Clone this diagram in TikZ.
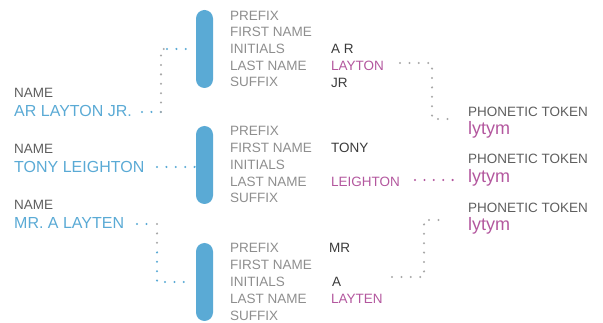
\documentclass[tikz,border=0pt]{standalone}
\usepackage{fontspec}
\setmainfont{Liberation Sans}
\definecolor{lblgray}{HTML}{8E8E8E}
\definecolor{namegray}{HTML}{5E5E5E}
\definecolor{valdark}{HTML}{3A3A3A}
\definecolor{nblue}{HTML}{5AAAD5}
\definecolor{npurple}{HTML}{B3579E}
\definecolor{dgray}{HTML}{A8A8A8}
\tikzset{
  lbl/.style={font=\fontsize{13.5}{16}\selectfont, text=lblgray, anchor=base west, inner sep=0pt},
  val/.style={lbl, text=valdark},
  valp/.style={lbl, text=npurple},
  nmlbl/.style={lbl, text=namegray},
  nmval/.style={font=\fontsize{16}{19}\selectfont, text=nblue, anchor=base west, inner sep=0pt},
  tokval/.style={font=\fontsize{18}{21}\selectfont, text=npurple, anchor=base west, inner sep=0pt},
  barbox/.style={fill=nblue, draw=none, minimum width=17pt, minimum height=78pt, rounded corners=8.5pt, inner sep=0pt},
  dotsbase/.style={line width=2.3pt, line cap=round, dash pattern=on 0pt off 9.4pt},
  dotb/.style={dotsbase, draw=nblue},
  dotg/.style={dotsbase, draw=dgray},
  dotp/.style={dotsbase, draw=npurple},
}
\begin{document}
\begin{tikzpicture}[x=1pt,y=-1pt]
\useasboundingbox (0,0) rectangle (603,323);
% bars
\node[barbox] (b1) at (204.5,49) {};
\node[barbox] (b2) at (204.5,165) {};
\node[barbox] (b3) at (204.5,282) {};
% group 1 labels
\node[lbl] (g1a) at (230,20.5) {PREFIX};
\node[lbl] (g1b) at (230,37) {FIRST NAME};
\node[lbl] (g1c) at (230,54) {INITIALS};
\node[lbl] (g1d) at (230,70.5) {LAST NAME};
\node[lbl] (g1e) at (230,87) {SUFFIX};
\node[val] (v1c) at (331,54) {A R};
\node[valp] (v1d) at (331,71) {LAYTON};
\node[val] (v1e) at (331,88) {JR};
% group 2 labels
\node[lbl] (g2a) at (230,136) {PREFIX};
\node[lbl] (g2b) at (230,153) {FIRST NAME};
\node[lbl] (g2c) at (230,169.5) {INITIALS};
\node[lbl] (g2d) at (230,186.5) {LAST NAME};
\node[lbl] (g2e) at (230,203) {SUFFIX};
\node[val] (v2b) at (331,153) {TONY};
\node[valp] (v2d) at (331,187) {LEIGHTON};
% group 3 labels
\node[lbl] (g3a) at (230,253) {PREFIX};
\node[lbl] (g3b) at (230,270) {FIRST NAME};
\node[lbl] (g3c) at (230,287) {INITIALS};
\node[lbl] (g3d) at (230,303.5) {LAST NAME};
\node[lbl] (g3e) at (230,320) {SUFFIX};
\node[val] (v3a) at (329,253) {MR};
\node[val] (v3c) at (332,287) {A};
\node[valp] (v3d) at (331,304) {LAYTEN};
% names
\node[nmlbl] (n1l) at (14,98) {NAME};
\node[nmval] (n1) at (14,117) {AR LAYTON JR.};
\node[nmlbl] (n2l) at (14,154) {NAME};
\node[nmval] (n2) at (14,173) {TONY LEIGHTON};
\node[nmlbl] (n3l) at (14,210) {NAME};
\node[nmval] (n3) at (14,229) {MR. A LAYTEN};
% tokens
\node[lbl, text=namegray] (t1l) at (468,117) {PHONETIC TOKEN};
\node[tokval] (t1) at (468,135) {lytym};
\node[lbl, text=namegray] (t2l) at (468,164) {PHONETIC TOKEN};
\node[tokval] (t2) at (468,183) {lytym};
\node[lbl, text=namegray] (t3l) at (468,213) {PHONETIC TOKEN};
\node[tokval] (t3) at (468,231) {lytym};
% connector coordinates
\coordinate (c1s) at (142,112);
\coordinate (c1a) at (161,112);
\coordinate (c1b) at (161,49);
\coordinate (c1c) at (167,49);
\coordinate (c2s) at (157,167);
\coordinate (c3s) at (137,224);
\coordinate (c3a) at (157,224);
\coordinate (c3m) at (157,243);
\coordinate (c3b) at (157,282);
\coordinate (c4s) at (400,63);
\coordinate (c4a) at (432,63);
\coordinate (c4b) at (432,119);
\coordinate (c5s) at (415,180);
\coordinate (c6s) at (392,277);
\coordinate (c6a) at (424,277);
\coordinate (c6b) at (424,220);
% connectors
\draw[dotb] (c1s) -- (c1a);
\draw[dotg] (c1a) -- (c1b) -- (c1c);
\draw[dotb] (c1c) -- ([xshift=-2pt]b1.west |- c1c);
\draw[dotb] (c2s) -- ([xshift=-1pt]b2.west |- c2s);
\draw[dotb] (c3s) -- ([xshift=-7pt]c3a);
\draw[dotg] (c3a) -- (c3m);
\draw[dotb] ([yshift=-9.4pt]c3m) -- (c3b) -- ([xshift=-4pt]b3.west |- c3b);
\draw[dotg] (c4s) -- (c4a) -- (c4b) -- ([xshift=-13pt]t1l.west |- c4b);
\draw[dotp] (c5s) -- ([xshift=-14pt]t2.west |- c5s);
\draw[dotg] (c6s) -- (c6a) -- (c6b) -- ([xshift=-25pt]t3l.west |- c6b);
\end{tikzpicture}
\end{document}
